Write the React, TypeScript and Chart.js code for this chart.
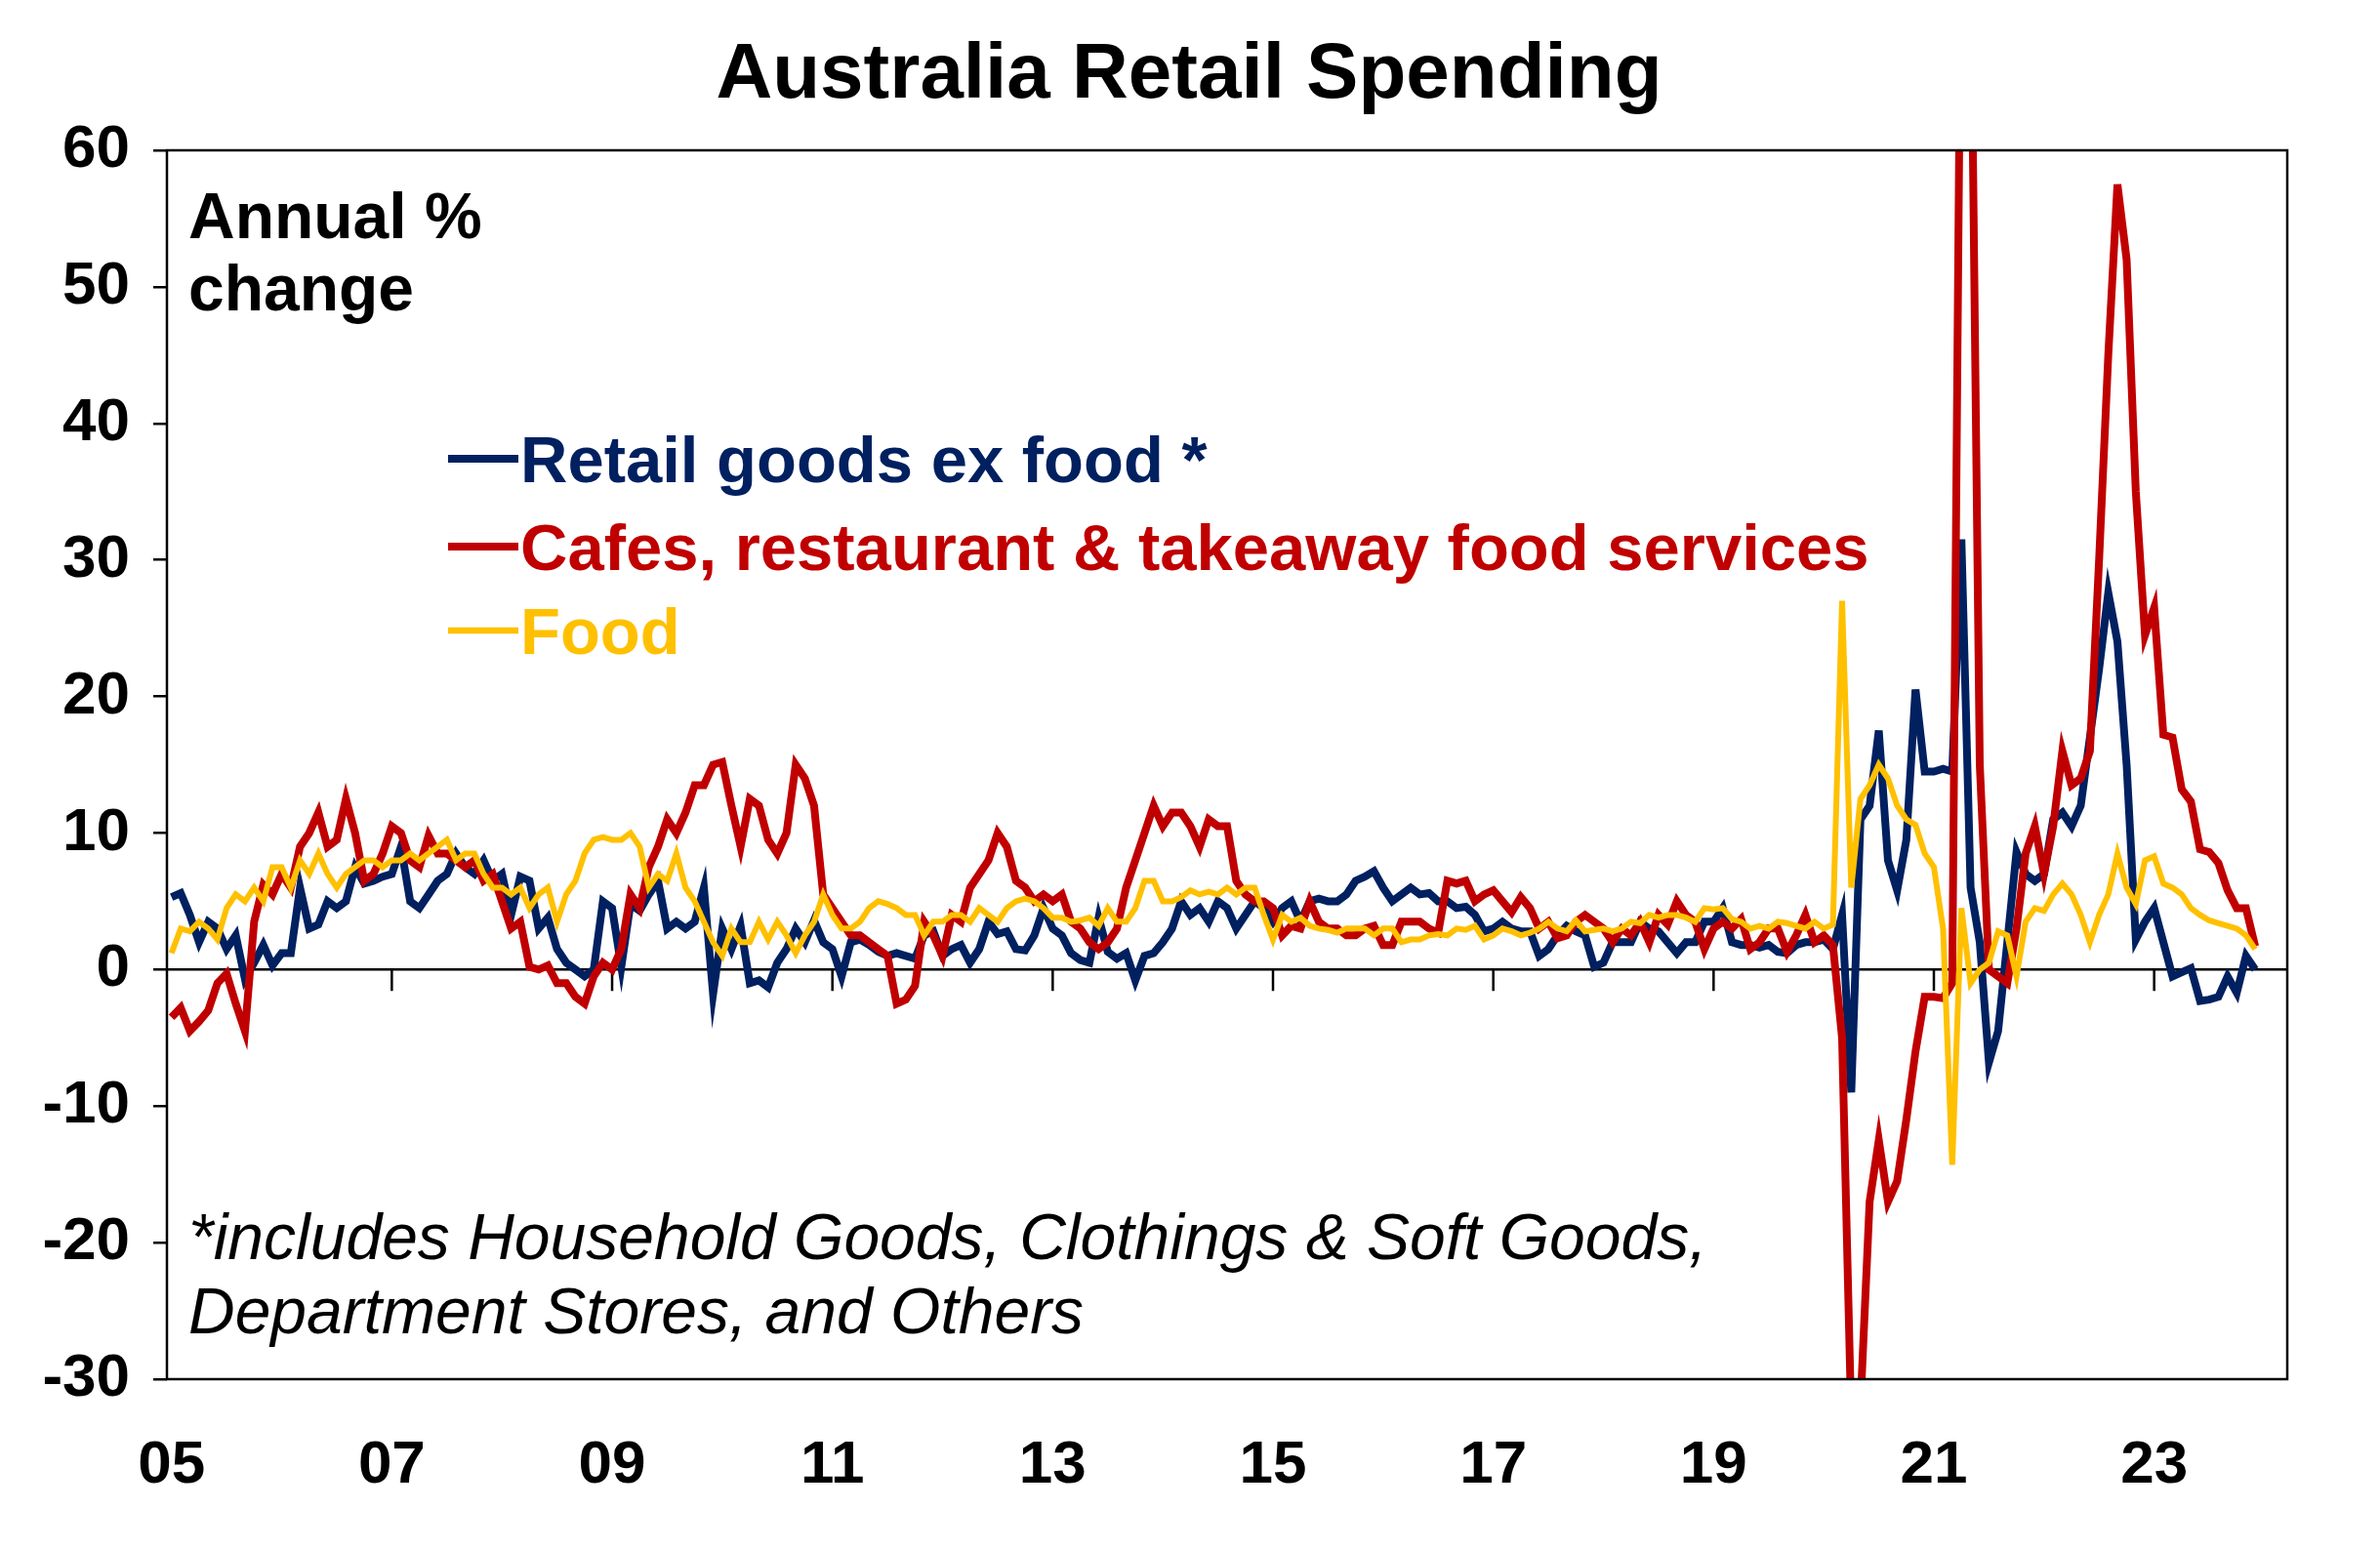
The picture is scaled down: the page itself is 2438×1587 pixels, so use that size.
import React, { useEffect, useRef } from "react";
import { Chart, registerables } from "chart.js";
Chart.register(...registerables);

const startYear = 2005;
const yearTicks = ["05", "07", "09", "11", "13", "15", "17", "19", "21", "23"];

const retailExFood = [
  5.3, 5.6, 4, 2, 3.5, 3, 1.5, 2.5, -0.7, 0.5, 1.8, 0.3,
  1.2, 1.2, 6, 3, 3.3, 5, 4.5, 5, 7.5, 6.3, 6.5, 6.8,
  7, 9, 5, 4.5, 5.5, 6.5, 7, 8.5, 7.5, 7, 8, 6.5,
  7, 4, 6.8, 6.5, 3, 3.8, 1.5, 0.5, 0, -0.5, 0, 5,
  4.5, 0.2, 4.8, 4.3, 5.5, 6.5, 3, 3.5, 3, 3.5, 6, -1.8,
  3, 1.5, 3.2, -1, -0.8, -1.3, 0.5, 1.5, 3, 2, 3.6, 2,
  1.5, -0.5, 2, 2.2, 1.8, 1.3, 1, 1.2, 1, 0.8, 2.5, 2.8,
  1, 1.5, 1.8, 0.5, 1.5, 3.5, 2.6, 2.8, 1.5, 1.4, 2.5, 4.5,
  3, 2.5, 1.2, 0.7, 0.5, 3.8, 1.3, 0.8, 1.2, -0.8, 1, 1.2,
  2, 3, 5, 4, 4.5, 3.5, 5, 4.5, 3, 4, 5, 4.5,
  3.5, 4.5, 5, 3.5, 5, 5.2, 5, 5, 5.5, 6.5, 6.8, 7.2,
  6, 5, 5.5, 6, 5.5, 5.6, 5, 5, 4.5, 4.6, 4, 2.8,
  3, 3.5, 3, 2.8, 2.8, 1, 1.5, 2.5, 3.2, 2.8, 2.5, 0.2,
  0.5, 2, 2, 2, 3.5, 3, 2.8, 2, 1.2, 2, 2, 3.5,
  3.5, 4.5, 2, 1.8, 1.8, 1.6, 1.8, 1.3, 1.2, 1.8, 2, 2,
  2.2, 1.5, 4, -9, 11, 12, 17.5, 8, 5.8, 9.5, 20.5, 14.5,
  14.5, 14.7, 14.5, 31.5, 6, 2, -6.8, -4.5, 2, 8.6, 7, 6.5,
  7, 11, 11.5, 10.5, 12, 17, 22, 27.6, 24, 15, 2.2, 3.5,
  4.5, 2, -0.5, -0.2, 0.1, -2.3, -2.2, -2, -0.5, -1.7, 1, 0,
];

const cafesRestaurants = [
  -3.5, -2.8, -4.5, -3.8, -3, -1, -0.3, -2.5, -4.5, 3.5, 6.2, 5.5,
  7, 6, 9, 10, 11.5, 9, 9.5, 12.5, 10, 6.5, 7, 8.5,
  10.5, 10, 8, 7.5, 9.8, 8.5, 8.5, 8, 7.5, 8, 6.5, 7,
  5, 3, 3.5, 0.2, 0, 0.3, -1, -1, -2, -2.5, -0.5, 0.5,
  0, 1.5, 5.5, 4.5, 7.5, 9, 11, 10, 11.5, 13.5, 13.5, 15,
  15.2, 12, 9, 12.5, 12, 9.5, 8.5, 10, 15, 14, 12, 5.5,
  4.5, 3.5, 2.5, 2.5, 2, 1.5, 1, -2.5, -2.2, -1.2, 3.5, 2.5,
  1, 4, 3.5, 6, 7, 8, 10, 9, 6.5, 6, 5, 5.5,
  5, 5.5, 3.5, 3, 2, 1.5, 2, 3, 6, 8, 10, 12,
  10.5, 11.5, 11.5, 10.5, 9, 11, 10.5, 10.5, 6.5, 5.5, 5, 5,
  4.5, 2.5, 3.2, 3, 5, 3.5, 3, 3, 2.5, 2.5, 3, 3.2,
  1.8, 1.8, 3.5, 3.5, 3.5, 3, 2.7, 6.5, 6.3, 6.5, 5, 5.5,
  5.8, 5, 4.2, 5.3, 4.5, 3, 3.5, 2.3, 2.5, 3.5, 4, 3.5,
  3, 2, 3, 2.5, 3.5, 2, 4, 3.3, 5, 4, 3.5, 1.5,
  3, 3.5, 3, 3.7, 1.5, 2, 3, 3, 1.3, 2.5, 4, 2,
  2.5, 1.8, -5, -33, -32, -17, -12.5, -17, -15.5, -11, -6, -2,
  -2, -2.1, -1, 80, 75, 15, 0, -0.5, -1, 3, 8.5, 10.5,
  7, 10.5, 16, 13.5, 14, 16, 30, 45, 57.5, 52, 35, 24.5,
  26.5, 17.2, 17, 13.2, 12.3, 8.8, 8.6, 7.8, 5.8, 4.5, 4.5, 1.7,
];

const food = [
  1.2, 3, 2.8, 3.5, 3, 2.2, 4.5, 5.5, 5, 6, 5, 7.5,
  7.5, 6, 8, 7, 8.5, 7, 6, 7, 7.5, 8, 8, 7.5,
  8, 8, 8.5, 8, 8.5, 9, 9.5, 8, 8.5, 8.5, 7, 6,
  6, 5.5, 6, 4.5, 5.5, 6, 3.5, 5.5, 6.5, 8.5, 9.5, 9.7,
  9.5, 9.5, 10, 9, 6, 7, 6.5, 8.5, 6, 5, 3.5, 2,
  1, 3, 2, 2, 3.5, 2.2, 3.5, 2.5, 1.2, 2.5, 3.5, 5.5,
  4, 3, 3, 3.5, 4.5, 5, 4.8, 4.5, 4, 4, 2.5, 3.5,
  3.5, 4, 4, 3.5, 4.5, 4, 3.5, 4.5, 5, 5.2, 5, 4.5,
  3.8, 3.8, 3.5, 3.6, 3.8, 3.2, 4.5, 3.5, 3.5, 4.5, 6.5, 6.5,
  5, 5, 5.3, 5.8, 5.5, 5.7, 5.5, 6, 5.5, 6, 6, 4,
  2.2, 4, 3.5, 3.8, 3.2, 3, 2.9, 2.7, 3, 3, 3, 2.5,
  3, 3, 2, 2.2, 2.2, 2.5, 2.6, 2.5, 3, 2.9, 3.2, 2.2,
  2.5, 3, 2.8, 2.5, 2.7, 3, 3.5, 3, 2.8, 3.6, 2.8, 2.9,
  3, 2.8, 3, 3.5, 3.4, 4, 3.8, 4, 4, 3.8, 3.5, 4.5,
  4.4, 4.5, 3.7, 3.5, 3, 3.2, 3, 3.5, 3.4, 3.2, 3, 3.5,
  3, 3.3, 27, 6, 12.5, 13.5, 15, 14, 12, 11, 10.6, 8.5,
  7.5, 3, -14.3, 4.5, -1, 0, 0.5, 2.8, 2.5, -0.5, 3.5, 4.5,
  4.3, 5.5, 6.3, 5.5, 4, 2, 4, 5.5, 8.5, 6, 4.8, 8,
  8.3, 6.3, 6, 5.5, 4.5, 4, 3.6, 3.4, 3.2, 3, 2.5, 1.5,
];

const seriesNames = [
  "Retail goods ex food *",
  "Cafes, restaurant & takeaway food services",
  "Food",
];
const colors = ["#002060", "#C00000", "#FFC000"];

const FONT = "'Liberation Sans', Arial, sans-serif";

export default function App() {
  const ref = useRef<HTMLCanvasElement>(null);
  useEffect(() => {
    const toPts = (arr: number[]) => arr.map((v, i) => ({ x: i, y: v }));
    const overlay = {
      id: "overlay",
      afterDraw(chart: any) {
        const { ctx, chartArea: a } = chart;
        ctx.save();
        ctx.strokeStyle = "#000";
        ctx.lineWidth = 2.5;
        ctx.strokeRect(a.left, a.top, a.right - a.left, a.bottom - a.top);
        ctx.fillStyle = "#000";
        ctx.textBaseline = "alphabetic";
        ctx.textAlign = "center";
        ctx.font = `bold 80px ${FONT}`;
        ctx.fillText("Australia Retail Spending", 1218, 100);
        ctx.textAlign = "left";
        ctx.font = `bold 66px ${FONT}`;
        ctx.fillText("Annual %", 193, 244);
        ctx.fillText("change", 193, 318);
        ctx.font = `italic 66px ${FONT}`;
        ctx.fillText("*includes Household Goods, Clothings & Soft Goods,", 193, 1290);
        ctx.fillText("Department Stores, and Others", 193, 1366);
        ctx.font = `bold 67px ${FONT}`;
        const ly = [494, 584, 670];
        seriesNames.forEach((n, i) => {
          ctx.strokeStyle = colors[i];
          ctx.lineWidth = i === 2 ? 6.5 : 8;
          ctx.beginPath();
          ctx.moveTo(459, ly[i] - 24);
          ctx.lineTo(531, ly[i] - 24);
          ctx.stroke();
          ctx.fillStyle = colors[i];
          ctx.fillText(n, 533, ly[i]);
        });
        ctx.restore();
      },
      beforeDatasetsDraw(chart: any) {
        const { ctx, chartArea: a, scales } = chart;
        const y0 = scales.y.getPixelForValue(0);
        ctx.save();
        ctx.strokeStyle = "#000";
        ctx.lineWidth = 2.5;
        ctx.beginPath();
        ctx.moveTo(a.left, y0);
        ctx.lineTo(a.right, y0);
        for (let m = 24; m <= 216; m += 24) {
          const x = scales.x.getPixelForValue(m);
          ctx.moveTo(x, y0);
          ctx.lineTo(x, y0 + 22);
        }
        ctx.stroke();
        ctx.restore();
      },
    };
    const chart = new Chart(ref.current!, {
      type: "line",
      data: {
        datasets: [
          { label: seriesNames[0], data: toPts(retailExFood), borderColor: colors[0], borderWidth: 8, pointRadius: 0, order: 2 },
          { label: seriesNames[1], data: toPts(cafesRestaurants), borderColor: colors[1], borderWidth: 8, pointRadius: 0, order: 1 },
          { label: seriesNames[2], data: toPts(food), borderColor: colors[2], borderWidth: 6, pointRadius: 0, order: 0 },
        ],
      },
      options: {
        animation: false,
        responsive: false,
        devicePixelRatio: 1,
        layout: { padding: { left: 0, right: 95, top: 154, bottom: 0 } },
        plugins: { legend: { display: false }, tooltip: { enabled: false } },
        scales: {
          x: {
            type: "linear",
            min: -0.5,
            max: 230.5,
            afterBuildTicks: (s: any) => {
              s.ticks = yearTicks.map((_, i) => ({ value: i * 24 }));
            },
            afterFit: (s: any) => { s.height = 174; },
            grid: { display: false },
            border: { display: false },
            ticks: {
              padding: 44,
              color: "#000",
              font: { family: FONT, size: 62, weight: "bold" },
              maxRotation: 0,
              autoSkip: false,
              callback: (v: any) => String((startYear + Math.round(v / 12)) % 100).padStart(2, "0"),
            },
          },
          y: {
            min: -30,
            max: 60,
            afterFit: (s: any) => { s.width = 171; },
            grid: { drawOnChartArea: false, drawTicks: true, tickLength: 14, color: "#000", lineWidth: 2.5 },
            border: { display: false },
            ticks: {
              stepSize: 10,
              padding: 24,
              color: "#000",
              font: { family: FONT, size: 62, weight: "bold" },
            },
          },
        },
      },
      plugins: [overlay],
    });
    return () => chart.destroy();
  }, []);
  return (
    <div style={{ position: "fixed", left: 0, top: 0, width: 2438, height: 1587, background: "#fff" }}>
      <canvas ref={ref} width={2438} height={1587} style={{ width: 2438, height: 1587 }} />
    </div>
  );
}
